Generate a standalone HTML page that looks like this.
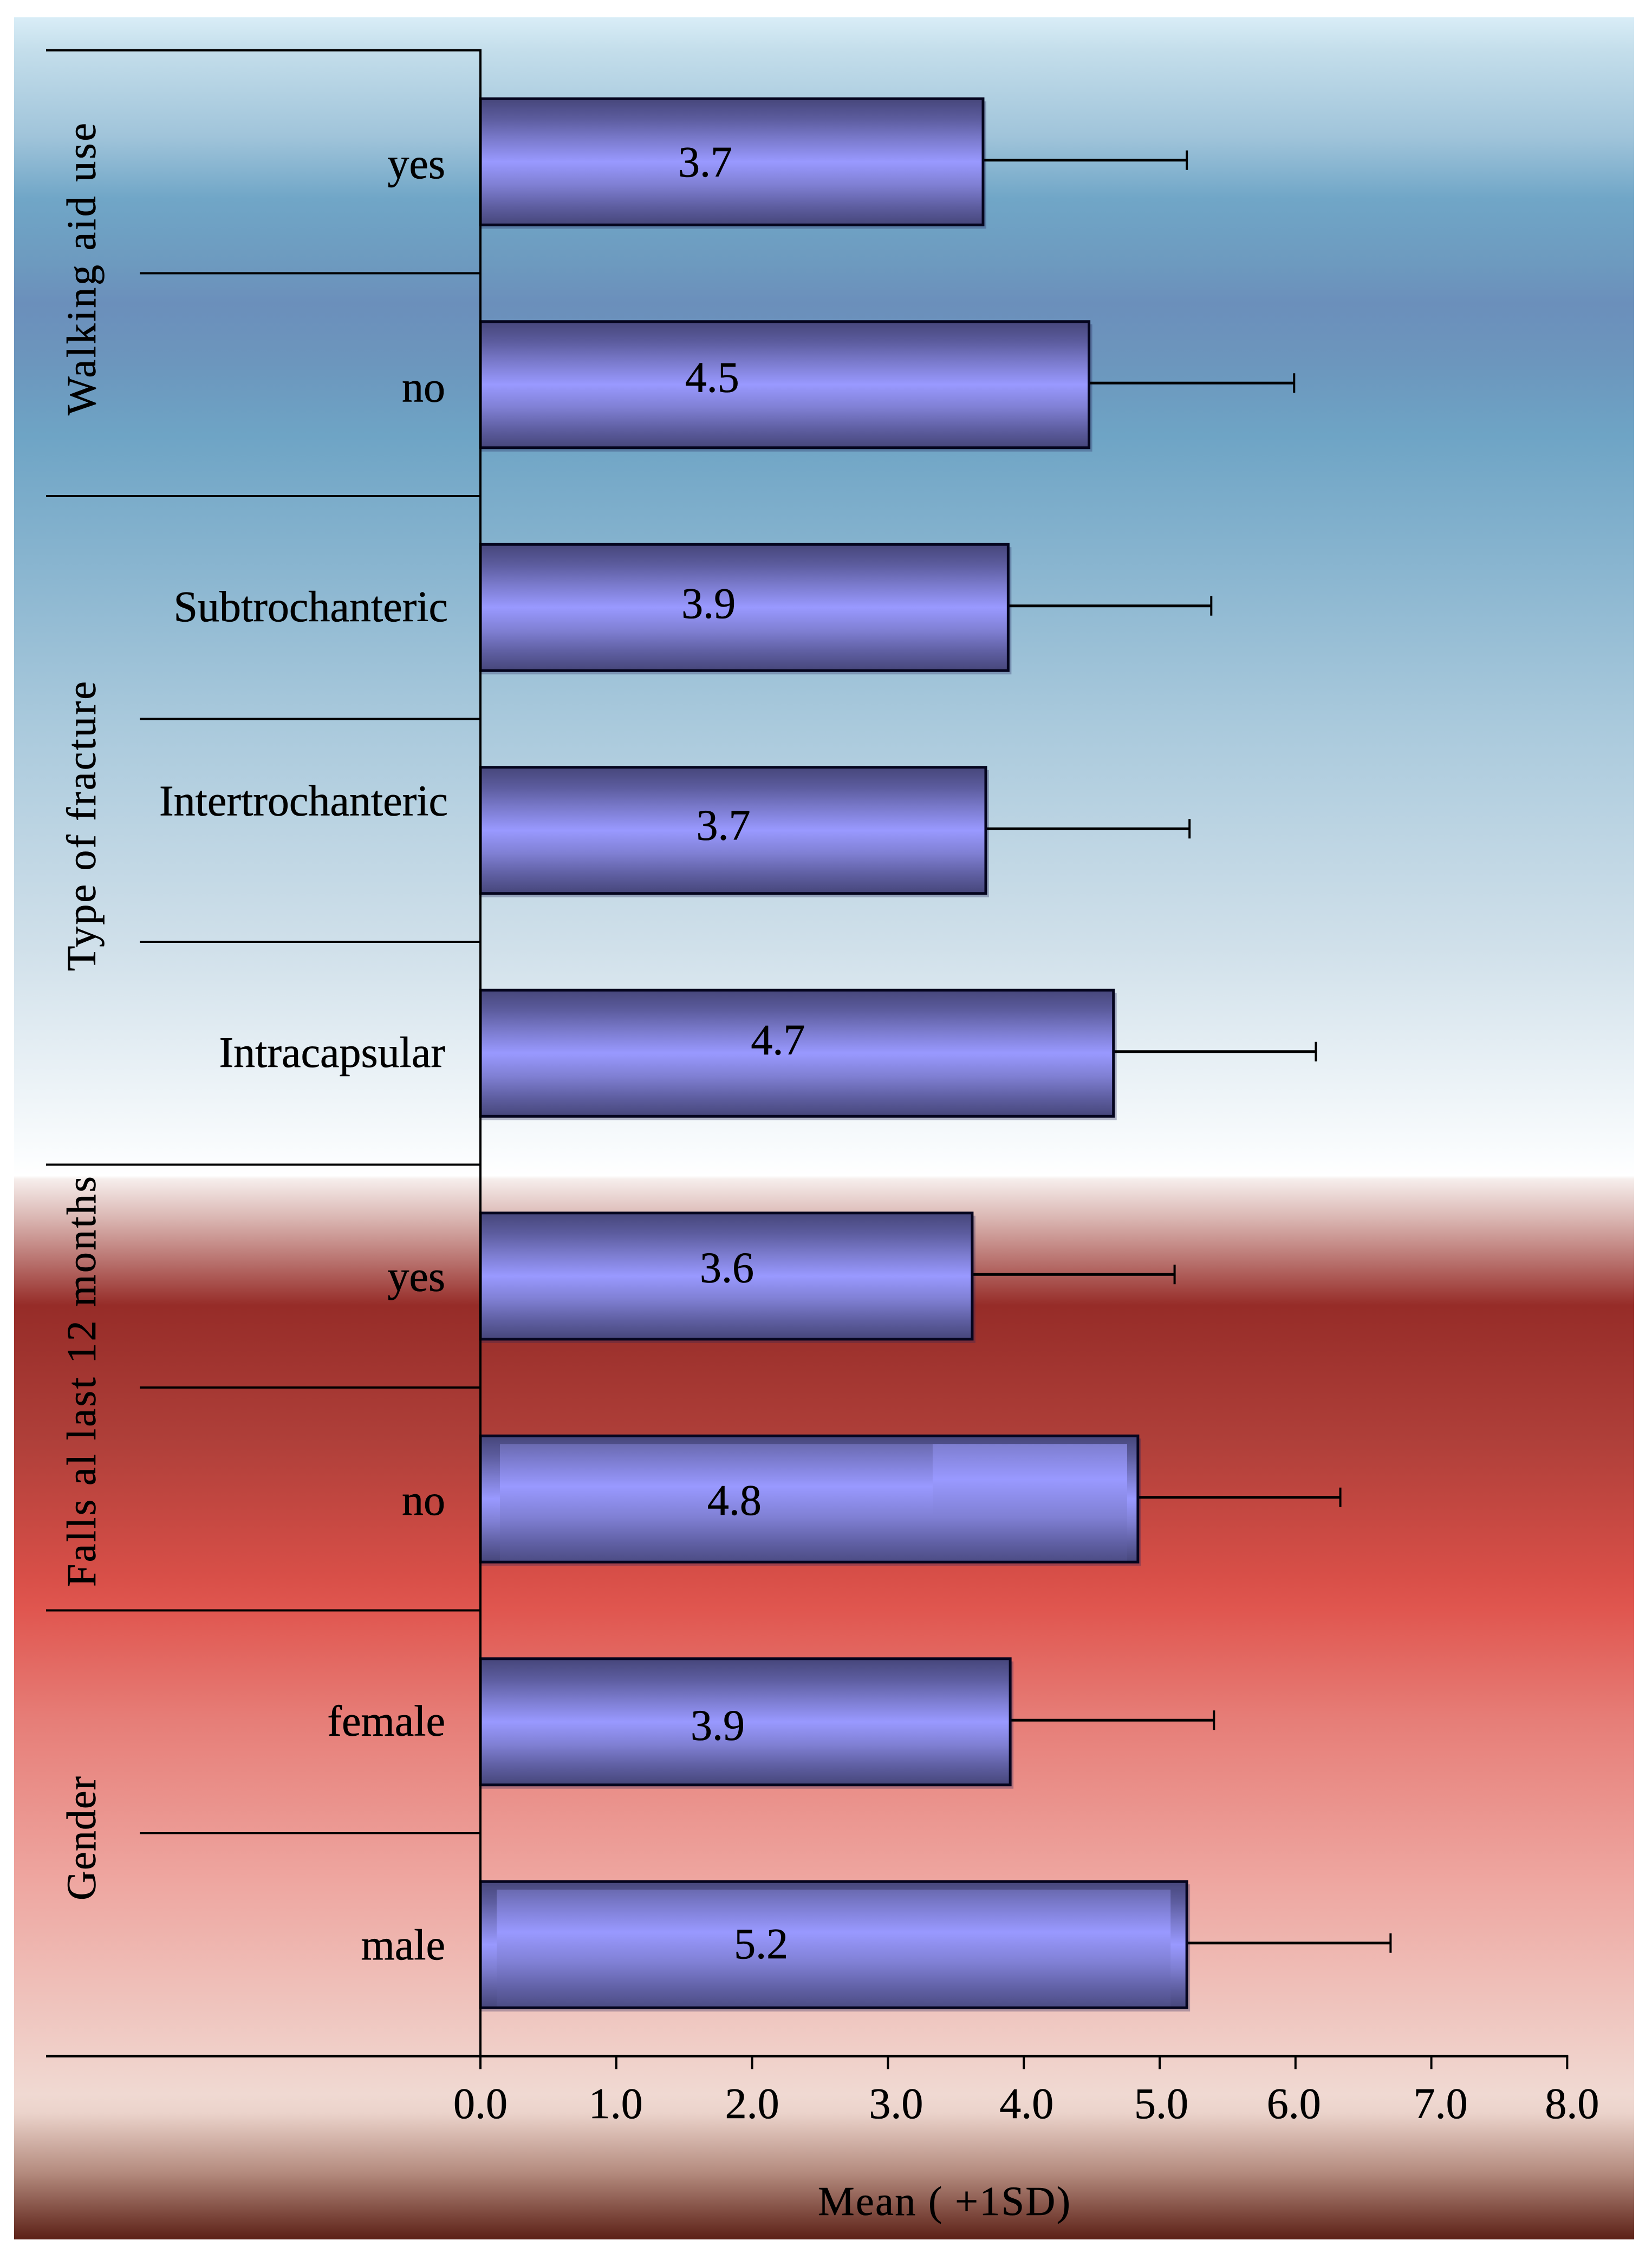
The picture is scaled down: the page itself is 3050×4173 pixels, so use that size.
<!DOCTYPE html>
<html lang="en">
<head>
<meta charset="utf-8">
<title>Mean (+1SD) by patient group</title>
<style>
html,body{margin:0;padding:0;background:#fff;}
#stage{position:relative;width:3050px;height:4173px;overflow:hidden;background:#fff;}
#panel{position:absolute;left:26px;top:32px;width:2991px;height:4103px;
background:linear-gradient(to bottom,
#d9edf7 0px,#c4deeb 60px,#a0c4da 220px,#70a6c7 335px,#6d9abf 455px,#6b8fbb 528px,#6c96bd 638px,#6ea4c5 772px,
#a9c9dc 1302px,#d0e0ea 1718px,#fbfdfe 2110px,#ffffff 2139px,
#f6eeec 2145px,#d9b4b0 2220px,#962c28 2378px,#b0403a 2636px,#d84f48 2880px,#e0564f 2940px,#e67d77 3140px,
#eea6a0 3440px,#f0d9d2 3835px,#ebd3cb 3870px,#b48b7e 3980px,#5c2016 4103px);}
#chart{position:absolute;left:0;top:0;}
text{font-family:"Liberation Serif",serif;fill:#000;stroke:#000;stroke-width:0.6;}
</style>
</head>
<body>
<div id="stage">
<div id="panel"></div>
<svg id="chart" width="3050" height="4173" viewBox="0 0 3050 4173" xmlns="http://www.w3.org/2000/svg">
<defs>
<linearGradient id="barFill" x1="0" y1="0" x2="0" y2="1">
<stop offset="0" stop-color="#46467a"/>
<stop offset="0.16" stop-color="#5c5c9e"/>
<stop offset="0.32" stop-color="#7a7acc"/>
<stop offset="0.5" stop-color="#9999ff"/>
<stop offset="0.68" stop-color="#8080d4"/>
<stop offset="0.85" stop-color="#5f5fa2"/>
<stop offset="1" stop-color="#46467a"/>
</linearGradient>
<linearGradient id="patchFill" x1="0" y1="0" x2="0" y2="1">
<stop offset="0" stop-color="#6a6ab0"/>
<stop offset="0.12" stop-color="#7a7acc"/>
<stop offset="0.36" stop-color="#9999ff"/>
<stop offset="0.62" stop-color="#8080d4"/>
<stop offset="0.84" stop-color="#6060a4"/>
<stop offset="1" stop-color="#4c4c84"/>
</linearGradient>
<linearGradient id="patchBright" x1="0" y1="0" x2="0" y2="1">
<stop offset="0" stop-color="#7e7ed0"/>
<stop offset="0.3" stop-color="#9999ff"/>
<stop offset="0.62" stop-color="#8080d4"/>
<stop offset="0.84" stop-color="#6060a4"/>
<stop offset="1" stop-color="#4c4c84"/>
</linearGradient>
</defs>
<g id="layer"></g>
</svg>
</div>
<script>
/* ---- chart data ---- */
const categories = ["yes","no","Subtrochanteric","Intertrochanteric","Intracapsular","yes","no","female","male"];
const means = [3.7,4.48,3.885,3.72,4.66,3.62,4.84,3.9,5.2];
const upperErrors = [5.2,5.99,5.38,5.22,6.15,5.11,6.33,5.4,6.7];
const valueLabels = ["3.7","4.5","3.9","3.7","4.7","3.6","4.8","3.9","5.2"];
const xTickValues = [0,1,2,3,4,5,6,7,8];
const xTickLabels = ["0.0","1.0","2.0","3.0","4.0","5.0","6.0","7.0","8.0"];
const groupNames = ["Walking aid use","Type of fracture","Falls al last 12 months","Gender"];
const groupSizes = [2,3,2,2];
const xAxisTitle = "Mean ( +1SD)";

/* ---- layout (separate from data) ---- */
const X0 = 887, UNIT = 250.8, Y0 = 93, BAND = 411.5, BAR_H = 233;
const xScale = v => X0 + v * UNIT;
const yBand = i => Y0 + i * BAND;
const yCenter = i => yBand(i) + BAND / 2;
const valueDx = [-49,-134,-66,-18,-35,1,-138,-51,-134];
const valueDy = [27,13,19,17,2,11,29,33,25];
const tickDx = [0,-1,0,15,5,3,-3,17,9];
const categoryDy = [30,31,25,-28,25,27,29,25,27];
const groupSpans = [[767,540],[1793,535],[2930,758],[3509,229]];
const innerPatches = {6:[36,20],8:[30,30]};
const brightShare = {6:0.31};

const NS = "http://www.w3.org/2000/svg";
const layer = document.getElementById("layer");
function make(tag, attrs, text) {
  const el = document.createElementNS(NS, tag);
  for (const k in attrs) el.setAttribute(k, attrs[k]);
  if (text !== undefined) el.textContent = text;
  layer.appendChild(el);
  return el;
}

/* horizontal category separators */
for (let i = 0; i <= categories.length; i++) {
  let start = 258, cum = 0;
  for (const s of groupSizes) { if (cum === i) start = 85; cum += s; }
  if (i === categories.length) continue;
  const sep = make("line", {x1:start, x2:X0, y1:yBand(i), y2:yBand(i), stroke:"#000", "stroke-width":4});
  
  
}

/* bars */
categories.forEach((cat, i) => {
  const top = yCenter(i) - BAR_H / 2;
  const w = xScale(means[i]) - X0;

  const shadow = make("rect", {x:X0, y:top + 5, width:w + 6, height:BAR_H + 2, fill:"#23235a", "fill-opacity":0.3});
  
  

  const whisker = make("line", {x1:X0 + w, x2:xScale(upperErrors[i]), y1:yCenter(i) - 3, y2:yCenter(i) - 3, stroke:"#000", "stroke-width":5});
  
  

  const cap = make("line", {x1:xScale(upperErrors[i]), x2:xScale(upperErrors[i]), y1:yCenter(i) - 21, y2:yCenter(i) + 15, stroke:"#000", "stroke-width":4});
  
  

  const bar = make("rect", {x:X0, y:top, width:w, height:BAR_H, fill:"url(#barFill)"});
  
  

  if (innerPatches[i]) {
    const inset = innerPatches[i];
    const patchW = w - inset[0] - inset[1];
    const patch = make("rect", {x:X0 + inset[0], y:top + 15, width:patchW, height:BAR_H - 15, fill:"url(#patchFill)"});
    
    

    if (brightShare[i]) {
      const bw = patchW * brightShare[i];
      const bright = make("rect", {x:X0 + inset[0] + patchW - bw, y:top + 15, width:bw, height:BAR_H - 15, fill:"url(#patchBright)"});
      
      
    }
  }

  const outline = make("rect", {x:X0, y:top, width:w, height:BAR_H, fill:"none", stroke:"#05051e", "stroke-width":5});
  
  

  const val = make("text", {x:X0 + w / 2 + valueDx[i], y:yCenter(i) + valueDy[i], "text-anchor":"middle", "font-size":80}, valueLabels[i]);
  
  

  const label = make("text", {x:i === 2 || i === 3 ? 827 : 822, y:yCenter(i) + categoryDy[i], "text-anchor":"end", "font-size":80}, cat);
  
  
});

/* y axis */
const yAxis = make("line", {x1:X0, x2:X0, y1:Y0 - 2, y2:yBand(categories.length), stroke:"#000", "stroke-width":4});



/* x axis */
const axisY = yBand(categories.length);
const xAxis = make("line", {x1:85, x2:xScale(xTickValues[xTickValues.length - 1]) + 2, y1:axisY, y2:axisY, stroke:"#000", "stroke-width":5});



xTickValues.forEach((v, i) => {
  const tick = make("line", {x1:xScale(v), x2:xScale(v), y1:axisY, y2:axisY + 24, stroke:"#000", "stroke-width":4});
  
  

  const tl = make("text", {x:xScale(v) + tickDx[i], y:3911, "text-anchor":"middle", "font-size":80}, xTickLabels[i]);
  
  
});

const xTitle = make("text", {x:1510, y:4090, "font-size":76, textLength:466, lengthAdjust:"spacing"}, xAxisTitle);



/* rotated group labels */
groupNames.forEach((g, i) => {
  const span = groupSpans[i];
  const gl = make("text", {transform:"translate(176," + span[0] + ") rotate(-90)", x:0, y:0, "font-size":76, textLength:span[1], lengthAdjust:"spacing"}, g);
  
  
});
</script>
</body>
</html>
